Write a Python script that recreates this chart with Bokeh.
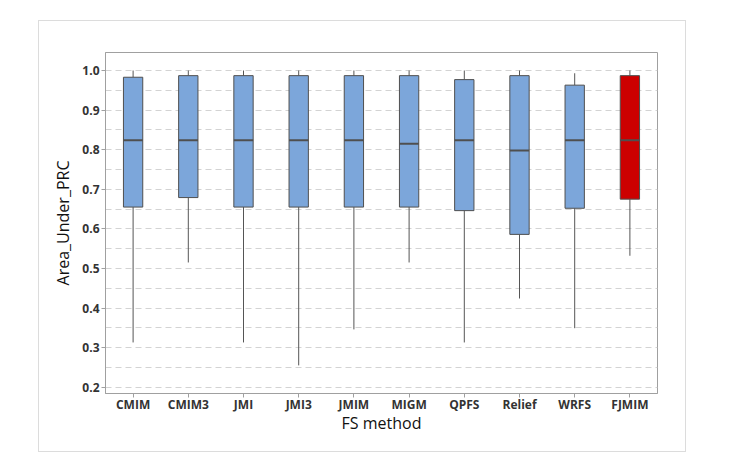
from bokeh.plotting import figure
from bokeh.models import ColumnDataSource, FactorRange, Range1d, FixedTicker, CustomJSTickFormatter
from bokeh.transform import dodge
from bokeh.embed import file_html
from bokeh.resources import INLINE

methods = ["CMIM", "CMIM3", "JMI", "JMI3", "JMIM", "MIGM", "QPFS", "Relief", "WRFS", "FJMIM"]
whisker_low = [0.313, 0.515, 0.313, 0.255, 0.346, 0.515, 0.313, 0.424, 0.349, 0.532]
q1 = [0.655, 0.679, 0.655, 0.655, 0.655, 0.655, 0.646, 0.586, 0.652, 0.675]
median = [0.824, 0.824, 0.824, 0.824, 0.824, 0.815, 0.824, 0.798, 0.824, 0.824]
q3 = [0.983, 0.987, 0.987, 0.987, 0.987, 0.987, 0.977, 0.987, 0.963, 0.987]
whisker_high = [1.0, 1.0, 1.0, 1.0, 1.0, 1.0, 1.0, 1.0, 0.993, 1.0]
highlight = "FJMIM"
y_ticks = [0.2, 0.3, 0.4, 0.5, 0.6, 0.7, 0.8, 0.9, 1.0]

BLUE = "#7ca6da"
RED = "#cc0000"
colors = [RED if m == highlight else BLUE for m in methods]

src = ColumnDataSource(dict(m=methods, lo=whisker_low, q1=q1, med=median,
                            q3=q3, hi=whisker_high, color=colors))

p = figure(x_range=FactorRange(*methods, range_padding=0),
           y_range=Range1d(0.184, 1.0455),
           width=648, height=432, output_backend="svg", toolbar_location=None,
           min_border_left=66, min_border_top=31, min_border_right=30, min_border_bottom=60,
           margin=(20, 0, 0, 38))
p.styles = {"border": "1px solid #dcdcdc", "box-sizing": "border-box"}

p.outline_line_color = "#a0a0a0"
p.outline_line_width = 1
p.background_fill_color = "white"
p.border_fill_color = "white"

# grid
p.xgrid.grid_line_color = None
p.ygrid.ticker = FixedTicker(ticks=[0.2 + 0.05 * i for i in range(17)])
p.ygrid.grid_line_color = "#d3d3d3"
p.ygrid.grid_line_dash = "6 4"
p.ygrid.grid_line_width = 1

# whiskers
p.segment(x0="m", y0="lo", x1="m", y1="q1", source=src, line_color="#555555", line_width=1)
p.segment(x0="m", y0="q3", x1="m", y1="hi", source=src, line_color="#555555", line_width=1)
# boxes
p.vbar(x="m", bottom="q1", top="q3", width=0.35, source=src,
       fill_color="color", line_color="#4f4f4f", line_width=1)
# medians
p.segment(x0=dodge("m", -0.175, range=p.x_range), y0="med",
          x1=dodge("m", 0.175, range=p.x_range), y1="med",
          source=src, line_color="#4f4f4f", line_width=2)

# axes
p.yaxis.ticker = FixedTicker(ticks=y_ticks)
p.yaxis.formatter = CustomJSTickFormatter(code="return tick.toFixed(1);")
for ax in (p.xaxis[0], p.yaxis[0]):
    ax.axis_line_color = "#a0a0a0"
    ax.major_tick_line_color = "#a0a0a0"
    ax.major_tick_out = 4
    ax.major_tick_in = 0
    ax.minor_tick_line_color = None
    ax.major_label_text_font = "Open Sans"
    ax.major_label_text_font_size = "12px"
    ax.major_label_text_font_style = "bold"
    ax.major_label_text_color = "#333333"
    ax.axis_label_text_font = "Open Sans"
    ax.axis_label_text_font_size = "16px"
    ax.axis_label_text_font_style = "normal"
    ax.axis_label_text_color = "#111111"
p.xaxis.axis_label = "FS method"
p.yaxis.axis_label = "Area_Under_PRC"
p.xaxis.major_label_standoff = -2
p.yaxis.major_label_standoff = 2
p.xaxis.axis_label_standoff = -4
p.yaxis.axis_label_standoff = 5

open("out.html", "w").write(file_html(p, INLINE))
